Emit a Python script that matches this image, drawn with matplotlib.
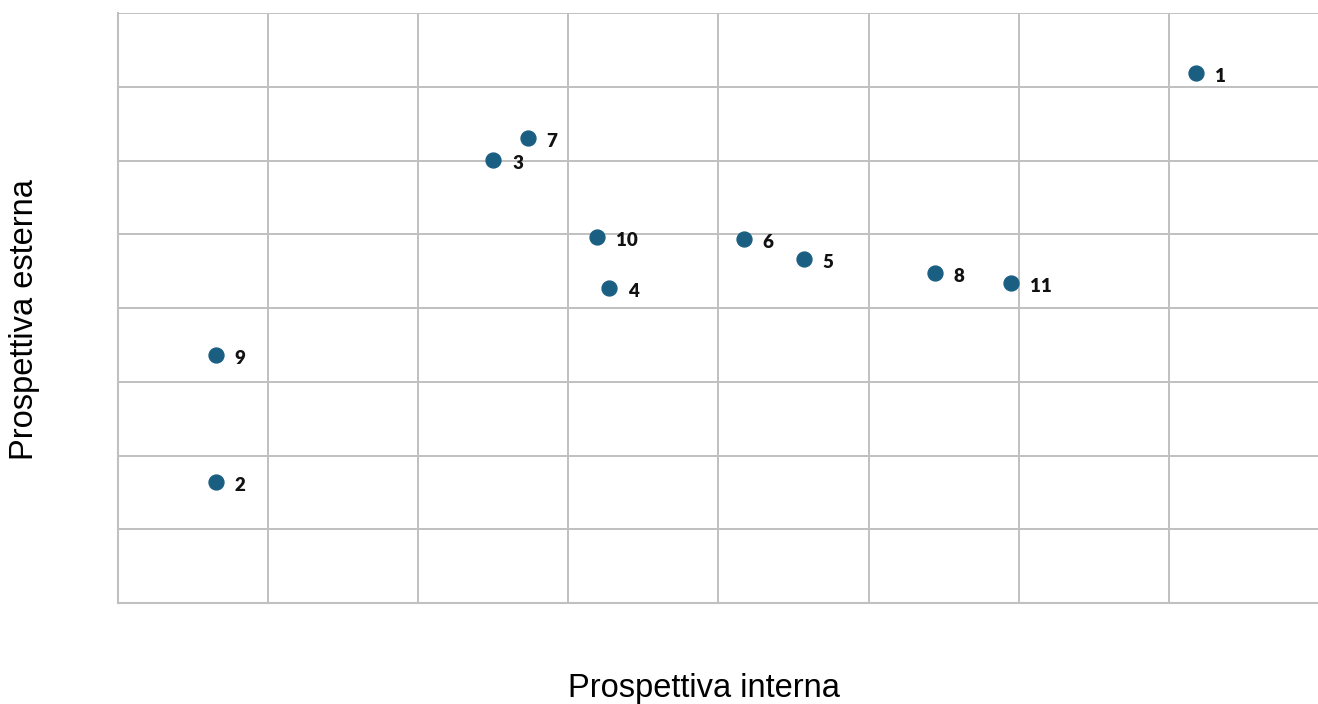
import matplotlib
matplotlib.use("Agg")
import matplotlib.pyplot as plt

labels = ["1", "2", "3", "4", "5", "6", "7", "8", "9", "10", "11"]
x_vals = [7.18, 0.65, 2.50, 3.27, 4.57, 4.17, 2.73, 5.44, 0.65, 3.19, 5.95]
y_vals = [7.19, 1.64, 6.01, 4.27, 4.66, 4.94, 6.31, 4.47, 3.36, 4.96, 4.34]

W, H = 1318, 704
fig = plt.figure(figsize=(W / 100, H / 100), dpi=100)
ax = fig.add_axes([118 / W, 1 - 603 / H, (1319 - 118) / W, (603 - 13) / H])

ax.set_xlim(0, 8)
ax.set_ylim(0, 8)
ax.set_xticks(range(0, 9))
ax.set_yticks(range(0, 9))
ax.tick_params(length=0, labelbottom=False, labelleft=False)
ax.grid(True, color="#C0C0C0", linewidth=1.4)
ax.set_axisbelow(True)
for s in ["top", "right"]:
    ax.spines[s].set_visible(False)
for s in ["left", "bottom"]:
    ax.spines[s].set_color("#C0C0C0")
    ax.spines[s].set_linewidth(1.5)

ax.scatter(x_vals, y_vals, s=115, color="#1A5F82", zorder=3, clip_on=False)
for lab, xv, yv in zip(labels, x_vals, y_vals):
    ax.annotate(lab, (xv, yv), xytext=(13.5, -2.5), textcoords="offset points",
                ha="left", va="center", fontsize=13.5, fontweight="heavy",
                family=["Lato", "DejaVu Sans"], color="#111111")

fig.text(704 / W, 1 - 688 / H, "Prospettiva interna", ha="center", va="center",
         fontsize=23.5, family=["Liberation Sans", "DejaVu Sans"], color="#000000")
fig.text(25 / W, 1 - 320 / H, "Prospettiva esterna", ha="center", va="center",
         rotation=90, fontsize=23.5, family=["Liberation Sans", "DejaVu Sans"], color="#000000")

fig.savefig("out.png", dpi=100)
